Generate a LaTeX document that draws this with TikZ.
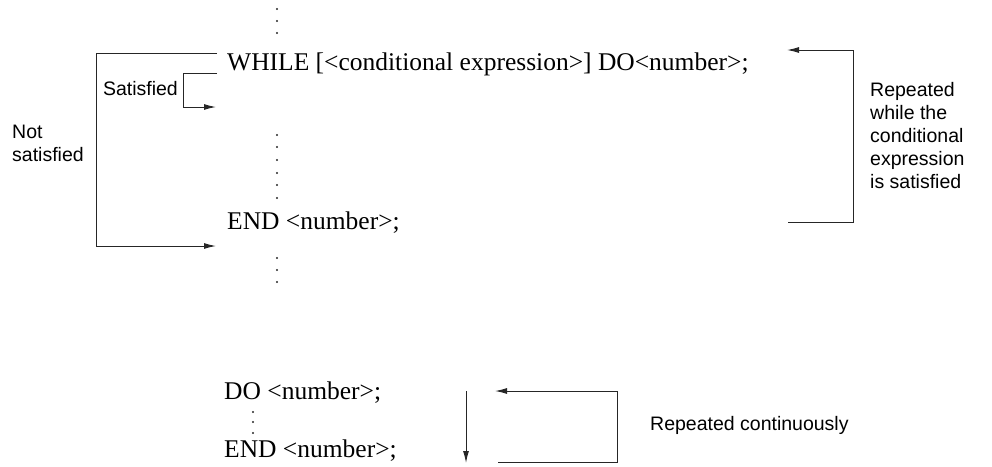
\documentclass[tikz,border=0pt]{standalone}
\usepackage{fontspec}
\setmainfont{Liberation Serif}
\setsansfont{Liberation Sans}
\usetikzlibrary{arrows.meta}
\begin{document}
\begin{tikzpicture}[x=1pt,y=-1pt,
  code/.style={font=\fontsize{25.5}{28}\selectfont, anchor=base west, inner sep=0pt},
  lbl/.style={font=\sffamily\fontsize{19.5}{23}\selectfont, inner sep=0pt, align=left},
  conn/.style={line width=1pt, black!85},
  arr/.style={conn, -{Latex[length=12pt,width=6pt]}},
  vdot/.style={fill=black!85}]
\useasboundingbox (0,0) rectangle (992,466);

% code lines
\node[code] (while) at (227,70.5) {WHILE [<conditional expression>] DO<number>;};
\node[code] (end1) at (227,229.5) {END <number>;};
\node[code] (do2) at (224,399.5) {DO <number>;};
\node[code] (end2) at (224,457.5) {END <number>;};

% dots
\foreach \y in {9,21,33,135,147,160,173,185,198,258,270,282}
  \fill[vdot] (277,\y) circle (1.1pt);
\foreach \y in {412,422,433}
  \fill[vdot] (253,\y) circle (1.1pt);

% labels
\node[lbl, anchor=east] (sat) at (178,89) {Satisfied};
\node[lbl, anchor=west] (notsat) at (12,143.5) {Not\\satisfied};
\node[lbl, anchor=west] (rep) at (870,135.5) {Repeated\\while the\\conditional\\expression\\is satisfied};
\node[lbl, anchor=west] (repc) at (650,425) {Repeated continuously};

% coordinates
\coordinate (nsTop) at (217,53);
\coordinate (nsL) at (96,246);
\coordinate (nsEnd) at (216,246);
\coordinate (sTop) at (217,73);
\coordinate (sL) at (183,107);
\coordinate (sEnd) at (216,107);
\coordinate (rTip) at (787,50);
\coordinate (rR) at (853,222);
\coordinate (rEnd) at (788,222);
\coordinate (dTop) at (466,391);
\coordinate (dBot) at (466,463);
\coordinate (bTip) at (495,391);
\coordinate (bR) at (617,462);
\coordinate (bEnd) at (498,462);

% connectors
\draw[arr] (nsTop) -- (nsTop -| nsL) -- (nsL) -- (nsEnd);
\draw[arr] (sTop) -- (sTop -| sL) -- (sL) -- (sEnd);
\draw[arr] (rEnd) -- (rR) -- (rR |- rTip) -- (rTip);
\draw[arr] (dTop) -- (dBot);
\draw[arr] (bEnd) -- (bR) -- (bR |- bTip) -- (bTip);
\end{tikzpicture}
\end{document}
